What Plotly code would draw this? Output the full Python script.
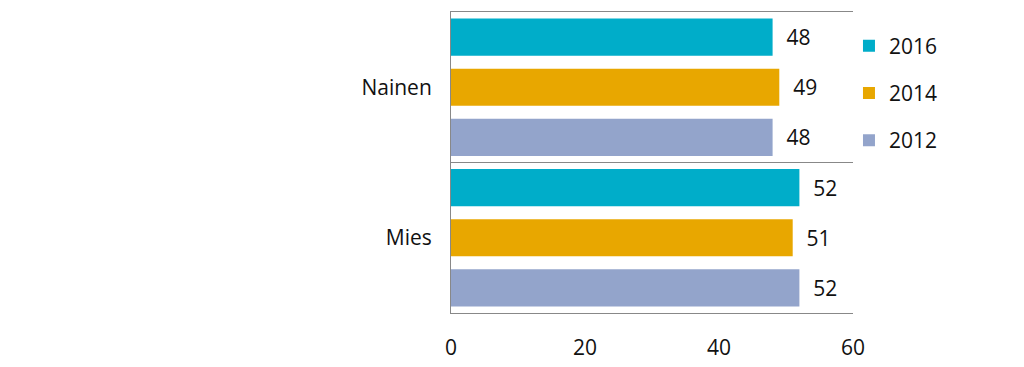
import plotly.graph_objects as go

categories = ["Nainen", "Mies"]
years = ["2016", "2014", "2012"]
values_2016 = [48, 52]
values_2014 = [49, 51]
values_2012 = [48, 52]
x_ticks = [0, 20, 40, 60]

series = [values_2016, values_2014, values_2012]
colors = ["#00ADC9", "#E8A700", "#93A4CB"]

FONT = "Open Sans"

fig = go.Figure()
for i, (yr, vals, col) in enumerate(zip(years, series, colors)):
    fig.add_trace(go.Bar(
        y=categories, x=vals, name=yr, orientation="h",
        marker=dict(color=col, line=dict(width=0)),
        text=vals, texttemplate="\u00a0\u00a0%{x}", textposition="outside",
        textfont=dict(family=FONT, size=21, color="#111111"),
        cliponaxis=False, legendgroup=yr,
    ))

# page body has an 8px default margin, so the figure is 8px smaller
fig.update_layout(
    width=1016, height=359,
    margin=dict(l=443, r=171, t=4, b=54, autoexpand=False),
    paper_bgcolor="white", plot_bgcolor="white",
    barmode="group", bargap=0.0, bargroupgap=0.26,
    font=dict(family=FONT, size=21, color="#111111"),
    legend=dict(x=0.99, y=0.955, xanchor="left", yanchor="top",
                font=dict(family=FONT, size=21, color="#111111"),
                tracegroupgap=17, traceorder="grouped"),
    xaxis=dict(range=[0, 60], tickvals=x_ticks, showgrid=False, zeroline=False,
               showline=True, mirror=True, linecolor="#888888", linewidth=1,
               ticks="", ticklabelstandoff=16, automargin=False,
               tickfont=dict(family=FONT, size=21)),
    yaxis=dict(categoryorder="array", categoryarray=categories, autorange="reversed",
               tickson="boundaries", showgrid=True, gridcolor="#888888", gridwidth=1,
               showline=True, linecolor="#888888", linewidth=1, ticks="",
               ticklabelstandoff=14, automargin=False,
               tickfont=dict(family=FONT, size=21)),
)

fig.write_html("out.html")
